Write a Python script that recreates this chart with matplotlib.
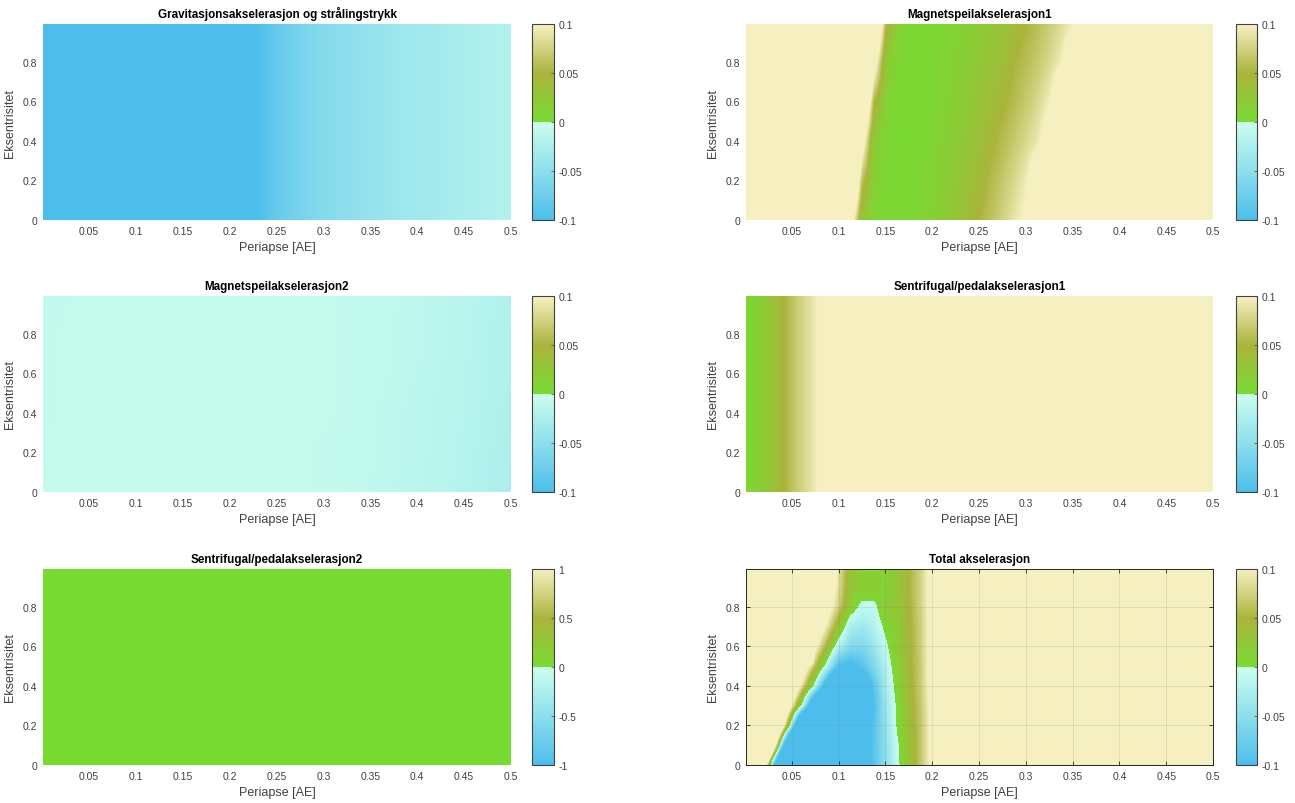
import matplotlib
matplotlib.use("Agg")
import numpy as np
import matplotlib.pyplot as plt
from matplotlib.colors import LinearSegmentedColormap

plt.rcParams["font.family"] = ["Liberation Sans", "DejaVu Sans"]

# periapse grids [AE] and eccentricity grids used by the maps
x_grid = [0.0, 0.025, 0.05, 0.075, 0.1, 0.125, 0.15, 0.175, 0.2, 0.225, 0.25,
          0.275, 0.3, 0.325, 0.35, 0.375, 0.4, 0.425, 0.45, 0.475, 0.5]
x_fine = [round(0.0125 * i, 4) for i in range(41)]
e_coarse = [0.0, 0.2, 0.4, 0.6, 0.8, 1.0]
e_fine = [0.0, 0.1, 0.2, 0.3, 0.4, 0.5, 0.6, 0.7, 0.8, 0.9, 1.0]
e_flat = [0.0, 1.0]

# gravitation + radiation pressure (independent of eccentricity)
grav = [-0.5, -0.5, -0.5, -0.5, -0.5, -0.4, -0.3, -0.22, -0.16, -0.105, -0.08,
        -0.066, -0.056, -0.049, -0.043, -0.038, -0.034, -0.03, -0.026, -0.023, -0.02]

# magnetic mirror term 1 on x_fine, rows = eccentricity 0, 0.2, ..., 1
mag1 = [
    [0.5] * 9 + [0.129, 0.025, 0.008, 0.004, 0.004, 0.005, 0.008, 0.013, 0.02, 0.028, 0.038,
                 0.05, 0.062, 0.075, 0.09, 0.105, 0.2] + [0.3] * 15,
    [0.5] * 9 + [0.219, 0.0625, 0.015, 0.006, 0.004, 0.005, 0.007, 0.011, 0.017, 0.024, 0.033,
                 0.043, 0.055, 0.067, 0.08, 0.095, 0.13] + [0.3] * 15,
    [0.5] * 10 + [0.125, 0.02, 0.007, 0.004, 0.004, 0.006, 0.009, 0.014, 0.02, 0.028, 0.036,
                  0.046, 0.057, 0.068, 0.08, 0.093, 0.12] + [0.3] * 14,
    [0.5] * 10 + [0.213, 0.056, 0.014, 0.005, 0.004, 0.005, 0.007, 0.011, 0.016, 0.022, 0.029,
                  0.037, 0.047, 0.057, 0.068, 0.08, 0.097, 0.14] + [0.3] * 13,
    [0.5] * 11 + [0.129, 0.025, 0.008, 0.004, 0.004, 0.006, 0.009, 0.013, 0.018, 0.024, 0.03,
                  0.037, 0.05, 0.058, 0.068, 0.08, 0.096, 0.13] + [0.3] * 12,
    [0.5] * 11 + [0.219, 0.0625, 0.016, 0.006, 0.004, 0.005, 0.007, 0.01, 0.014, 0.019, 0.025,
                  0.031, 0.038, 0.05, 0.059, 0.07, 0.082, 0.096, 0.14] + [0.3] * 11,
]

# magnetic mirror term 2 on x_grid
mag2 = [
    [-0.006, -0.005, -0.005, -0.005, -0.005, -0.005, -0.005, -0.005, -0.005, -0.005, -0.005, -0.006, -0.007, -0.008, -0.01, -0.012, -0.014, -0.016, -0.019, -0.022, -0.025],
    [-0.007, -0.005, -0.005, -0.005, -0.005, -0.005, -0.005, -0.005, -0.005, -0.005, -0.005, -0.006, -0.007, -0.008, -0.009, -0.011, -0.013, -0.015, -0.018, -0.021, -0.024],
    [-0.007, -0.006, -0.005, -0.005, -0.005, -0.005, -0.005, -0.005, -0.005, -0.005, -0.005, -0.005, -0.006, -0.007, -0.009, -0.011, -0.013, -0.015, -0.017, -0.02, -0.023],
    [-0.008, -0.006, -0.005, -0.005, -0.005, -0.005, -0.005, -0.005, -0.005, -0.005, -0.005, -0.005, -0.006, -0.007, -0.008, -0.01, -0.012, -0.014, -0.017, -0.019, -0.022],
    [-0.008, -0.006, -0.005, -0.005, -0.005, -0.005, -0.005, -0.005, -0.005, -0.005, -0.005, -0.005, -0.006, -0.007, -0.008, -0.01, -0.011, -0.013, -0.016, -0.019, -0.022],
    [-0.009, -0.007, -0.005, -0.005, -0.005, -0.005, -0.005, -0.005, -0.005, -0.005, -0.005, -0.005, -0.006, -0.007, -0.008, -0.009, -0.011, -0.013, -0.016, -0.018, -0.021],
]

# centrifugal / pedal terms (independent of eccentricity)
sent1 = [0.003, 0.025, 0.062, 0.095, 0.15, 0.3, 0.3, 0.3, 0.3, 0.3, 0.3,
         0.3, 0.3, 0.3, 0.3, 0.3, 0.3, 0.3, 0.3, 0.3, 0.3]
sent2_x = [0.0, 0.5]
sent2 = [0.002, 0.002]

# total acceleration on x_fine (0 .. 0.2 listed, yellow beyond), rows = eccentricity 0, 0.1, ..., 1
total = [
    [0.6, 0.36, 0.05, -0.26, -0.3, -0.3, -0.3, -0.3, -0.28, -0.22, -0.15, -0.09, -0.05, -0.008, 0.03, 0.065, 0.11] + [0.3] * 24,
    [0.6, 0.6, 0.3, -0.0125, -0.3, -0.3, -0.3, -0.3, -0.28, -0.22, -0.15, -0.09, -0.05, -0.005, 0.03, 0.065, 0.11] + [0.3] * 24,
    [0.6, 0.6, 0.38, 0.175, -0.033, -0.3, -0.3, -0.3, -0.28, -0.22, -0.15, -0.09, -0.045, 0.003, 0.035, 0.065, 0.11] + [0.3] * 24,
    [0.6, 0.6, 0.6, 0.225, 0.1, -0.025, -0.2, -0.3, -0.3, -0.25, -0.17, -0.1, -0.04, 0.005, 0.037, 0.067, 0.11] + [0.3] * 24,
    [0.6, 0.6, 0.6, 0.6, 0.164, 0.075, -0.014, -0.14, -0.25, -0.22, -0.15, -0.09, -0.03, 0.012, 0.04, 0.07, 0.115] + [0.3] * 24,
    [0.6, 0.6, 0.6, 0.6, 0.6, 0.132, 0.059, -0.015, -0.1, -0.11, -0.09, -0.06, -0.02, 0.018, 0.043, 0.07, 0.115] + [0.3] * 24,
    [0.6, 0.6, 0.6, 0.6, 0.6, 0.6, 0.11, 0.045, -0.021, -0.055, -0.06, -0.04, -0.006, 0.022, 0.045, 0.072, 0.115] + [0.3] * 24,
    [0.6, 0.6, 0.6, 0.6, 0.6, 0.6, 0.152, 0.093, 0.033, -0.026, -0.035, -0.02, 0.0063, 0.02, 0.045, 0.072, 0.115] + [0.3] * 24,
    [0.6, 0.6, 0.6, 0.6, 0.6, 0.6, 0.6, 0.121, 0.073, 0.02, -0.009, -0.009, 0.024, 0.025, 0.048, 0.075, 0.115] + [0.3] * 24,
    [0.6, 0.6, 0.6, 0.6, 0.6, 0.6, 0.6, 0.15, 0.085, 0.03, 0.02, 0.02, 0.012, 0.025, 0.05, 0.075, 0.115] + [0.3] * 24,
    [0.6, 0.6, 0.6, 0.6, 0.6, 0.6, 0.6, 0.2, 0.09, 0.035, 0.012, 0.01, 0.012, 0.025, 0.05, 0.075, 0.115] + [0.3] * 24,
]

x_ticks = [0.05, 0.1, 0.15, 0.2, 0.25, 0.3, 0.35, 0.4, 0.45, 0.5]
x_ticklabels = ["0.05", "0.1", "0.15", "0.2", "0.25", "0.3", "0.35", "0.4", "0.45", "0.5"]
y_ticks = [0, 0.2, 0.4, 0.6, 0.8]
y_ticklabels = ["0", "0.2", "0.4", "0.6", "0.8"]

cmap = LinearSegmentedColormap.from_list("aks", [
    (0.0, "#4DBEEC"), (0.4999, "#CCFFEE"), (0.5, "#78DC32"),
    (0.75, "#AAB43C"), (1.0, "#F6F0C0")], N=256)

GRAY = "#404040"
W, H = 1295, 804
fig = plt.figure(figsize=(W / 100, H / 100), dpi=100)

col_x = [43, 746]
col_w = [468, 467]
cb_x = [532, 1236]
cb_w = [22, 21]
row_top = [25, 297, 570]
AX_H = 196


def draw(col, row, title, xs, ys, z, vmax, total_style=False):
    ax = fig.add_axes([col_x[col] / W, 1 - (row_top[row] + AX_H) / H, col_w[col] / W, AX_H / H])
    cax = fig.add_axes([cb_x[col] / W, 1 - (row_top[row] + AX_H) / H, cb_w[col] / W, AX_H / H])
    dx = xs[1] - xs[0]
    dy = ys[1] - ys[0]
    im = ax.imshow(np.array(z), origin="lower", aspect="auto", cmap=cmap,
                   vmin=-vmax, vmax=vmax, interpolation="bilinear",
                   interpolation_stage="data",
                   extent=[xs[0] - dx / 2, xs[-1] + dx / 2, ys[0] - dy / 2, ys[-1] + dy / 2])
    ax.set_xlim(0.001, 0.5)
    ax.set_ylim(0, 0.99)
    ax.set_xticks(x_ticks)
    ax.set_xticklabels(x_ticklabels)
    ax.set_yticks(y_ticks)
    ax.set_yticklabels(y_ticklabels)
    ax.tick_params(labelsize=7.5, labelcolor=GRAY, pad=4)
    ax.set_xlabel("Periapse [AE]", fontsize=9, color=GRAY, labelpad=4)
    ax.set_ylabel("Eksentrisitet", fontsize=9, color=GRAY, labelpad=5)
    ax.set_title(title, fontsize=8.4, fontweight="bold", pad=5)
    if total_style:
        for s in ax.spines.values():
            s.set_color("#262626")
            s.set_linewidth(0.7)
        ax.tick_params(direction="in", length=3, width=0.6, color="#262626",
                       top=True, right=True)
        ax.set_axisbelow(False)
        ax.grid(True, color="#808080", alpha=0.25, linewidth=0.5)
    else:
        for s in ax.spines.values():
            s.set_visible(False)
        ax.tick_params(length=0)

    cb = fig.colorbar(im, cax=cax)
    cb.set_ticks([-vmax, -vmax / 2, 0, vmax / 2, vmax])
    if vmax == 1:
        cb.set_ticklabels(["-1", "-0.5", "0", "0.5", "1"])
    else:
        cb.set_ticklabels(["-0.1", "-0.05", "0", "0.05", "0.1"])
    cb.outline.set_edgecolor("#404040")
    cb.outline.set_linewidth(0.8)
    cax.tick_params(labelsize=7.5, labelcolor=GRAY, length=2, width=0.5,
                    direction="in", color="#404040", pad=3)
    return ax


flat = lambda p: [p, p]

draw(0, 0, "Gravitasjonsakselerasjon og strålingstrykk", x_grid, e_flat, flat(grav), 0.1)
draw(1, 0, "Magnetspeilakselerasjon1", x_fine, e_coarse, mag1, 0.1)
draw(0, 1, "Magnetspeilakselerasjon2", x_grid, e_coarse, mag2, 0.1)
draw(1, 1, "Sentrifugal/pedalakselerasjon1", x_grid, e_flat, flat(sent1), 0.1)
draw(0, 2, "Sentrifugal/pedalakselerasjon2", sent2_x, e_flat, flat(sent2), 1)
draw(1, 2, "Total akselerasjon", x_fine, e_fine, total, 0.1, total_style=True)

fig.savefig("out.png", dpi=100)
